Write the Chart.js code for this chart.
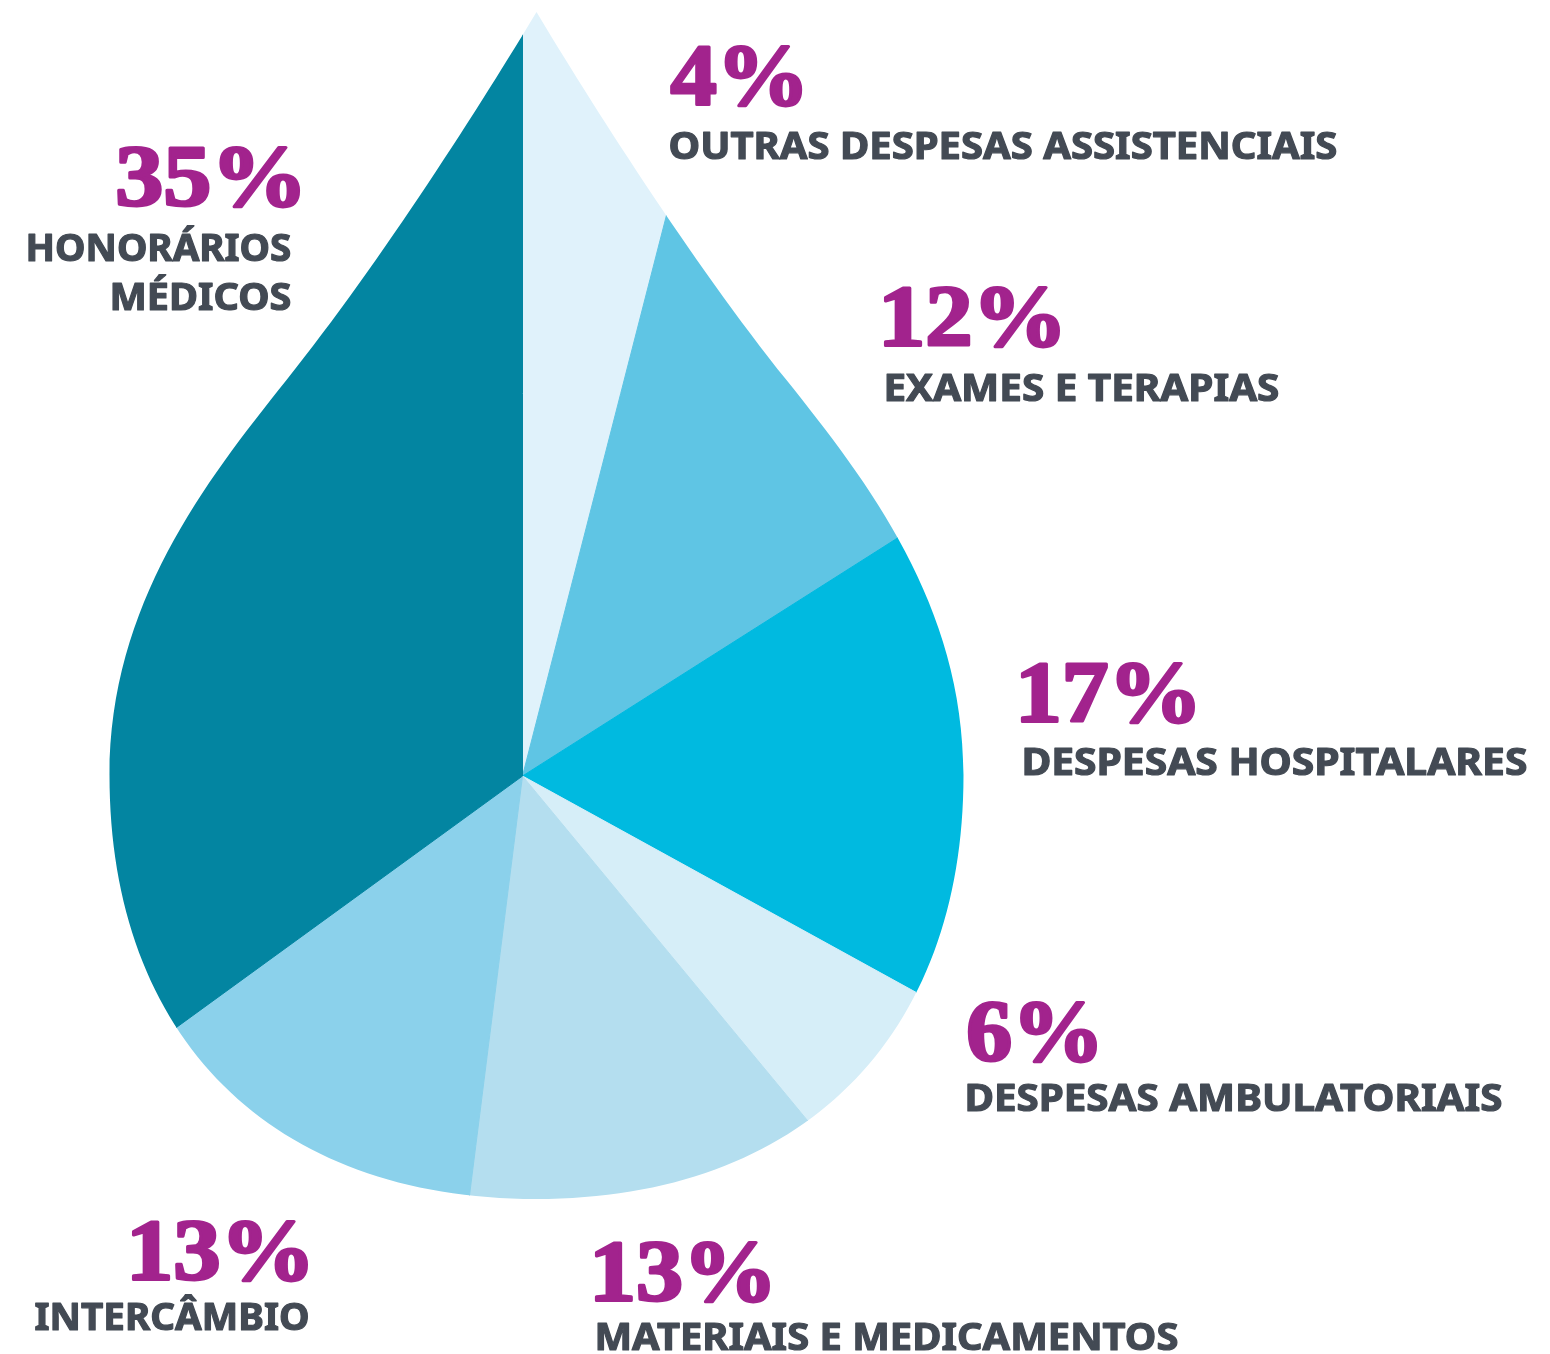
<!DOCTYPE html>
<html><head><meta charset="utf-8">
<script src="https://cdn.jsdelivr.net/npm/chart.js@4.4.0/dist/chart.umd.min.js"></script>
<style>html,body{margin:0;padding:0;background:#fff;overflow:hidden}</style>
</head><body>
<canvas id="c" width="1550" height="1354"></canvas>
<script>
// ---- data ----
const categories = ['OUTRAS DESPESAS ASSISTENCIAIS','EXAMES E TERAPIAS','DESPESAS HOSPITALARES','DESPESAS AMBULATORIAIS','MATERIAIS E MEDICAMENTOS','INTERCÂMBIO','HONORÁRIOS MÉDICOS'];
const categoryLines = [['OUTRAS DESPESAS ASSISTENCIAIS'],['EXAMES E TERAPIAS'],['DESPESAS HOSPITALARES'],['DESPESAS AMBULATORIAIS'],['MATERIAIS E MEDICAMENTOS'],['INTERCÂMBIO'],['HONORÁRIOS','MÉDICOS']];
const values = [4,12,17,6,13,13,35];
const colors = ['#E0F2FB','#5FC5E4','#00BAE0','#D6EEF8','#B4DEEF','#8BD1EB','#0385A1'];

// ---- label layout: ink edge x, baseline y, ink width ----
const labelLayout = [
  {align:'left',  px:670,  py:105,  pw:132, lines:[[670,160,667]]},
  {align:'left',  px:883,  py:346,  pw:177, lines:[[886,402,393]]},
  {align:'left',  px:1020, py:722,  pw:175, lines:[[1024,776,503]]},
  {align:'left',  px:967,  py:1061, pw:130, lines:[[967,1112,535]]},
  {align:'left',  px:594,  py:1301, pw:176, lines:[[597,1351,581]]},
  {align:'right', px:308,  py:1280, pw:177, lines:[[308,1331,273]]},
  {align:'right', px:300,  py:206,  pw:183, lines:[[291,262,263],[291,311,179]]}
];

function fitText(ctx, text, x, y, align, width, stroke){
  ctx.save();
  ctx.textAlign = 'left';
  ctx.textBaseline = 'alphabetic';
  const m = ctx.measureText(text);
  const abl = m.actualBoundingBoxLeft, abr = m.actualBoundingBoxRight;
  const inkW = abl + abr;
  const sx = (width - stroke) / inkW;
  const tx = align === 'left' ? x + abl * sx + stroke / 2 : x - abr * sx - stroke / 2;
  ctx.translate(tx, y - stroke / 2);
  ctx.scale(sx, 1);
  ctx.fillText(text, 0, 0);
  if (stroke > 0) {
    ctx.lineWidth = stroke;
    ctx.lineJoin = 'round';
    ctx.strokeStyle = ctx.fillStyle;
    ctx.strokeText(text, 0, 0);
  }
  ctx.restore();
}

const dropClip = {
  id: 'dropClip',
  beforeDatasetsDraw(chart){
    const arc = chart.getDatasetMeta(0).data[0];
    const ctx = chart.ctx;
    const cx = arc.x + 14, cy = arc.y - 1;
    const R = 427, B = 424, T = 763, k = 0.62;
    ctx.save();
    ctx.beginPath();
    ctx.moveTo(cx, cy - T);
    ctx.bezierCurveTo(cx + 51.5, cy - 677, cx + 156, cy - 512, cx + 250, cy - 395);
    ctx.bezierCurveTo(cx + 331, cy - 293.5, cx + R, cy - 170, cx + R, cy);
    ctx.bezierCurveTo(cx + R, cy + k * B, cx + k * R, cy + B, cx, cy + B);
    ctx.bezierCurveTo(cx - k * R, cy + B, cx - R, cy + k * B, cx - R, cy);
    ctx.bezierCurveTo(cx - R, cy - 170, cx - 331, cy - 293.5, cx - 250, cy - 395);
    ctx.bezierCurveTo(cx - 156, cy - 512, cx - 51.5, cy - 677, cx, cy - T);
    ctx.closePath();
    ctx.clip();
  },
  afterDatasetsDraw(chart){
    chart.ctx.restore();
  }
};

const labelPlugin = {
  id: 'dropLabels',
  afterDraw(chart){
    const ctx = chart.ctx;
    values.forEach((v, i) => {
      const L = labelLayout[i];
      ctx.fillStyle = '#A2238D';
      ctx.font = 'bold 86px "Liberation Serif", serif';
      fitText(ctx, v + '%', L.px, L.py, L.align, L.pw, 3);
      ctx.fillStyle = '#434A54';
      ctx.font = 'bold 38px "Noto Sans", sans-serif';
      categoryLines[i].forEach((t, j) => {
        const [x, y, w] = L.lines[j];
        fitText(ctx, t, x, y, L.align, w, 1.2);
      });
    });
  }
};

new Chart(document.getElementById('c'), {
  type: 'pie',
  data: {
    labels: categories,
    datasets: [{
      data: values,
      backgroundColor: colors,
      borderColor: colors,
      borderWidth: 1,
      radius: 800,
      clip: false,
      hoverOffset: 0
    }]
  },
  options: {
    responsive: false,
    animation: false,
    events: [],
    layout: {padding: {left: 0, right: 505, top: 198, bottom: 0}},
    plugins: {legend: {display: false}, tooltip: {enabled: false}}
  },
  plugins: [dropClip, labelPlugin]
});
</script>
</body></html>
